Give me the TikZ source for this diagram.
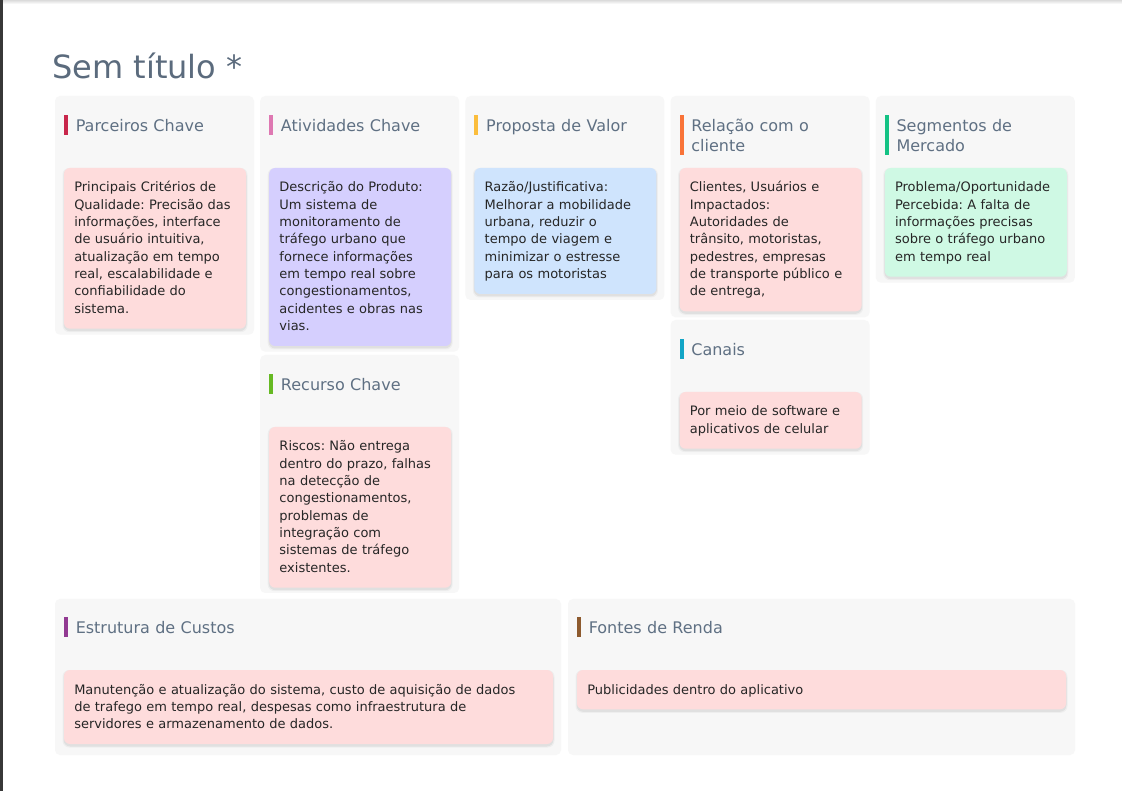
\documentclass[tikz,border=0pt]{standalone}
\usepackage{fontspec}
\setmainfont{DejaVu Sans}
\frenchspacing
\definecolor{panelgray}{HTML}{F7F7F7}
\definecolor{hdrcol}{HTML}{5F7083}
\definecolor{titlecol}{HTML}{5B6B7D}
\definecolor{txtcol}{HTML}{262626}
\definecolor{cpink}{HTML}{FEDCDC}
\definecolor{clav}{HTML}{D5CFFE}
\definecolor{cblue}{HTML}{CFE4FD}
\definecolor{cmint}{HTML}{CFF9E4}
\definecolor{bcrimson}{HTML}{C8264B}
\definecolor{bpink}{HTML}{DE78B2}
\definecolor{bamber}{HTML}{FBBD3C}
\definecolor{borange}{HTML}{F97338}
\definecolor{bgreen}{HTML}{14C284}
\definecolor{blime}{HTML}{66B923}
\definecolor{bcyan}{HTML}{12A5C6}
\definecolor{bpurple}{HTML}{923A92}
\definecolor{bbrown}{HTML}{8D5A2E}
\newcommand{\bodyfont}{\fontsize{9.75pt}{13pt}\selectfont}
\newcommand{\hdrfont}{\fontsize{12pt}{15pt}\selectfont}
\newcommand{\ttlfont}{\fontsize{24pt}{28pt}\selectfont}
\newcommand{\panelbox}[4]{\fill[panelgray,rounded corners=3.75pt] (#1,#2) rectangle (#3,#4);}
\newcommand{\cardbox}[5]{%
  \fill[black,opacity=0.035,rounded corners=5pt] (#1-1.5,#2) rectangle ++(#3+3,#4+3.5);
  \fill[black,opacity=0.06,rounded corners=5pt] (#1-0.5,#2+1) rectangle ++(#3+1,#4+1.5);
  \fill[#5,rounded corners=4.5pt] (#1,#2) rectangle ++(#3,#4);}
\newcommand{\accentbar}[4]{\fill[#4] (#1,#2) rectangle ++(4,#3);}
\tikzset{
  hdr/.style={anchor=base west, inner sep=0pt, text=hdrcol, font=\hdrfont, align=left, text width=180pt},
  ctext/.style={anchor=base west, inner sep=0pt, text=txtcol, font=\bodyfont, align=left, text width=400pt},
  ttl/.style={anchor=base west, inner sep=0pt, text=titlecol, font=\ttlfont},
}
\begin{document}
\begin{tikzpicture}[x=0.75pt,y=-0.75pt]
\useasboundingbox (0,0) rectangle (1122,791);
\fill[white] (0,0) rectangle (1122,791);
% top shadow and left strip
\shade[top color=black!14,bottom color=white] (0,0) rectangle (1122,4);
\fill[black!78] (0,0) rectangle (3.3,791);

\node[ttl] (title) at (52,79) {Sem título *};

% panels
\panelbox{55}{96}{254}{334.7}
\panelbox{260.2}{96}{459.2}{351.7}
\panelbox{260.2}{355}{459.2}{593}
\panelbox{465.4}{96}{664.4}{300}
\panelbox{670.6}{96}{869.6}{317.3}
\panelbox{670.6}{320}{869.6}{454.7}
\panelbox{875.8}{96}{1074.8}{282.7}
\panelbox{55}{599}{561}{755}
\panelbox{568}{599}{1075}{755}

% headers
\accentbar{64}{115}{20}{bcrimson}
\node[hdr] (h1) at (75.5,131.3) {Parceiros Chave};
\accentbar{269.2}{115}{20}{bpink}
\node[hdr] (h2) at (280.7,131.3) {Atividades Chave};
\accentbar{269.2}{374}{20}{blime}
\node[hdr] (h2b) at (280.7,390.3) {Recurso Chave};
\accentbar{474.4}{115}{20}{bamber}
\node[hdr] (h3) at (485.9,131.3) {Proposta de Valor};
\accentbar{679.6}{115}{40}{borange}
\node[hdr] (h4) at (691.1,131.3) {Relação com o\\cliente};
\accentbar{679.6}{339}{20}{bcyan}
\node[hdr] (h4b) at (691.1,355.3) {Canais};
\accentbar{884.8}{115}{40}{bgreen}
\node[hdr] (h5) at (896.3,131.3) {Segmentos de\\Mercado};
\accentbar{64}{617}{20}{bpurple}
\node[hdr] (h6) at (75.5,633.3) {Estrutura de Custos};
\accentbar{577}{617}{20}{bbrown}
\node[hdr] (h7) at (588.5,633.3) {Fontes de Renda};

% cards
\cardbox{64}{168}{182}{160.7}{cpink}
\node[ctext] (c1) at (74,192) {Principais Critérios de\\Qualidade: Precisão das\\informações, interface\\de usuário intuitiva,\\atualização em tempo\\real, escalabilidade e\\confiabilidade do\\sistema.};
\cardbox{269.2}{168}{182}{178}{clav}
\node[ctext] (c2) at (279.2,192) {Descrição do Produto:\\Um sistema de\\monitoramento de\\tráfego urbano que\\fornece informações\\em tempo real sobre\\congestionamentos,\\acidentes e obras nas\\vias.};
\cardbox{269.2}{427}{182}{160.7}{cpink}
\node[ctext] (c2b) at (279.2,451) {Riscos: Não entrega\\dentro do prazo, falhas\\na detecção de\\congestionamentos,\\problemas de\\integração com\\sistemas de tráfego\\existentes.};
\cardbox{474.4}{168}{182}{126}{cblue}
\node[ctext] (c3) at (484.4,192) {Razão/Justificativa:\\Melhorar a mobilidade\\urbana, reduzir o\\tempo de viagem e\\minimizar o estresse\\para os motoristas};
\cardbox{679.6}{168}{182}{143.3}{cpink}
\node[ctext] (c4) at (689.6,192) {Clientes, Usuários e\\Impactados:\\Autoridades de\\trânsito, motoristas,\\pedestres, empresas\\de transporte público e\\de entrega,};
\cardbox{679.6}{392}{182}{56.7}{cpink}
\node[ctext] (c4b) at (689.6,416) {Por meio de software e\\aplicativos de celular};
\cardbox{884.8}{168}{182}{108.7}{cmint}
\node[ctext] (c5) at (894.8,192) {Problema/Oportunidade\\Percebida: A falta de\\informações precisas\\sobre o tráfego urbano\\em tempo real};
\cardbox{64}{670}{489}{74}{cpink}
\node[ctext] (c6) at (74,694) {Manutenção e atualização do sistema, custo de aquisição de dados\\de trafego em tempo real, despesas como infraestrutura de\\servidores e armazenamento de dados.};
\cardbox{577}{670}{489}{39.3}{cpink}
\node[ctext] (c7) at (587,694) {Publicidades dentro do aplicativo};
\end{tikzpicture}
\end{document}
